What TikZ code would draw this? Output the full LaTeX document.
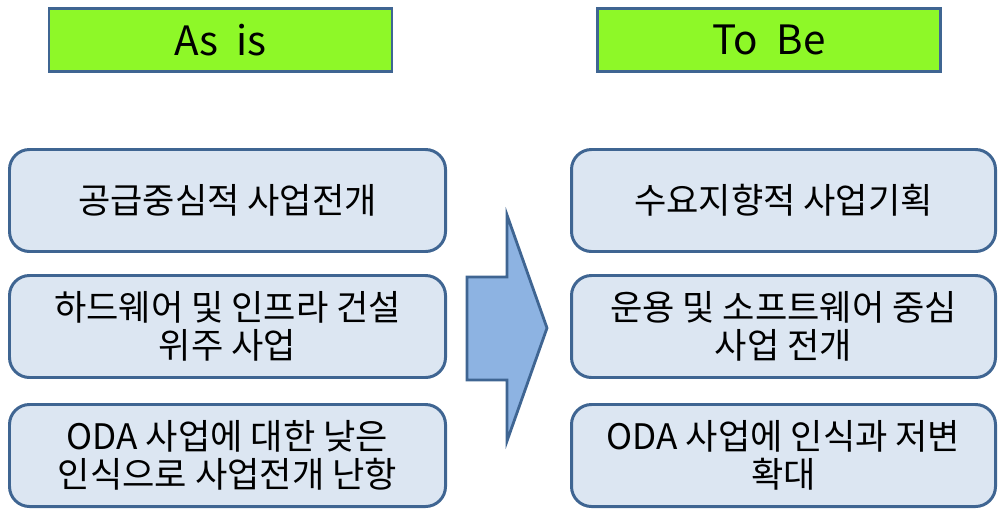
\documentclass[tikz,border=0pt]{standalone}
\usepackage{fontspec}
\setmainfont{Noto Sans CJK KR}
\definecolor{edgeblue}{HTML}{3F6592}
\definecolor{limegreen}{HTML}{8EF828}
\definecolor{paleblue}{HTML}{DCE6F2}
\definecolor{arrowblue}{HTML}{8DB3E2}
\tikzset{
  title/.style={draw=edgeblue, line width=1.6pt, fill=limegreen,
    minimum width=6.86cm, minimum height=1.26cm,
    font=\fontsize{23}{26}\selectfont},
  item/.style={draw=edgeblue, line width=1.7pt, fill=paleblue,
    rounded corners=0.4cm, minimum height=2.04cm, align=center,
    font=\fontsize{20}{21.5}\selectfont},
}
\begin{document}
\begin{tikzpicture}
  \useasboundingbox (0,0) rectangle (19.98,10.18);
  \node[title] (asis) at (4.41,9.38) {As\ \ is};
  \node[title] (tobe) at (15.38,9.38) {To\ \ Be};
  \node[item, minimum width=8.72cm] (a1) at (4.55,6.17) {공급중심적 사업전개};
  \node[item, minimum width=8.72cm] (a2) at (4.55,3.65) {하드웨어 및 인프라 건설\\위주 사업};
  \node[item, minimum width=8.72cm] (a3) at (4.55,1.07) {ODA 사업에 대한 낮은\\인식으로 사업전개 난항};
  \node[item, minimum width=8.48cm] (b1) at (15.67,6.17) {수요지향적 사업기획};
  \node[item, minimum width=8.48cm] (b2) at (15.67,3.65) {운용 및 소프트웨어 중심\\사업 전개};
  \node[item, minimum width=8.48cm] (b3) at (15.67,1.07) {ODA 사업에 인식과 저변\\확대};
  % arrow between the columns
  \draw[edgeblue, line width=1.6pt, fill=arrowblue, line join=miter]
    (9.34,4.64) -- (10.14,4.64) -- (10.14,5.88) -- (10.94,3.62)
    -- (10.14,1.36) -- (10.14,2.58) -- (9.34,2.58) -- cycle;
\end{tikzpicture}
\end{document}
